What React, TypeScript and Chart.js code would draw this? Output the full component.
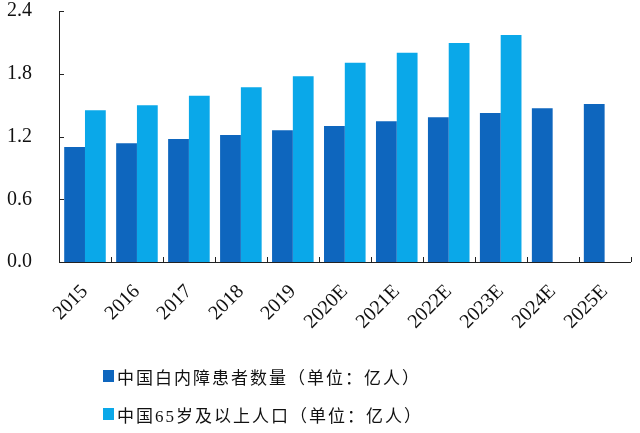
import React, { useEffect, useRef } from "react";
import { Chart, registerables } from "chart.js";

Chart.register(...registerables);

const categories = ["2015", "2016", "2017", "2018", "2019", "2020E", "2021E", "2022E", "2023E", "2024E", "2025E"];
const cataractPatients = [1.1, 1.135, 1.175, 1.215, 1.26, 1.3, 1.345, 1.385, 1.425, 1.47, 1.51];
const population65Plus = [1.45, 1.5, 1.59, 1.67, 1.775, 1.905, 2.0, 2.095, 2.17, null, null];
const seriesLabels = ["中国白内障患者数量（单位：亿人）", "中国65岁及以上人口（单位：亿人）"];
const yTicks = [0, 0.6, 1.2, 1.8, 2.4];

const DARK = "#0E66BE";
const LIGHT = "#0AA8E9";
const SERIF = "'Liberation Serif', 'Times New Roman', serif";

const innerTicks = {
  id: "innerTicks",
  afterDraw(chart: any) {
    const ctx = chart.ctx;
    const x = chart.scales.x;
    const y = chart.scales.y;
    ctx.save();
    ctx.strokeStyle = "#222";
    ctx.lineWidth = 1;
    const n = categories.length;
    const step = (x.right - x.left) / n;
    for (let i = 1; i <= n; i++) {
      const px = Math.round(x.left + i * step) + 0.5;
      ctx.beginPath();
      ctx.moveTo(px, y.bottom);
      ctx.lineTo(px, y.bottom - 5);
      ctx.stroke();
    }
    for (const v of yTicks) {
      const py = Math.round(y.getPixelForValue(v)) + 0.5;
      ctx.beginPath();
      ctx.moveTo(x.left, py);
      ctx.lineTo(x.left + 5, py);
      ctx.stroke();
    }
    ctx.restore();
  },
};

export default function App() {
  const ref = useRef<HTMLCanvasElement | null>(null);

  useEffect(() => {
    if (!ref.current) return;
    const chart = new Chart(ref.current, {
      type: "bar",
      data: {
        labels: categories,
        datasets: [
          { label: seriesLabels[0], data: cataractPatients, backgroundColor: DARK, categoryPercentage: 0.8, barPercentage: 1.0 },
          { label: seriesLabels[1], data: population65Plus as any, backgroundColor: LIGHT, categoryPercentage: 0.8, barPercentage: 1.0 },
        ],
      },
      options: {
        animation: false,
        responsive: true,
        maintainAspectRatio: false,
        layout: { padding: { top: 11, right: 9, bottom: 96, left: 0 } },
        plugins: { legend: { display: false }, tooltip: { enabled: false } },
        scales: {
          x: {
            grid: { display: false, drawTicks: false },
            border: { display: true, color: "#222", width: 1 },
            ticks: {
              autoSkip: false,
              minRotation: 45,
              maxRotation: 45,
              color: "#111",
              padding: 18,
              font: { family: SERIF, size: 20 },
            },
            afterFit: (s: any) => { s.height = 75; },
          },
          y: {
            min: 0,
            max: 2.4,
            afterBuildTicks: (s: any) => { s.ticks = yTicks.map((v) => ({ value: v })); },
            grid: { display: false, drawTicks: false },
            border: { display: true, color: "#222", width: 1 },
            ticks: {
              color: "#111",
              padding: 27,
              font: { family: SERIF, size: 20 },
              callback: (v: any) => Number(v).toFixed(1),
            },
            afterFit: (s: any) => {
              s.width = 59;
              s.paddingTop = 0;
              s.paddingBottom = 0;
            },
          },
        },
      },
      plugins: [innerTicks],
    });
    return () => chart.destroy();
  }, []);

  const legendRows = [
    { color: DARK, label: seriesLabels[0], top: 364 },
    { color: LIGHT, label: seriesLabels[1], top: 402 },
  ];

  return (
    <div style={{ position: "fixed", left: 0, top: 0, width: 640, height: 433, background: "#fff" }}>
      <canvas ref={ref} />
      {legendRows.map((r) => (
        <div
          key={r.label}
          style={{
            position: "absolute",
            left: 103,
            top: r.top,
            height: 24,
            display: "flex",
            alignItems: "center",
            fontFamily: "'Liberation Serif', 'Noto Sans CJK SC', serif",
            fontSize: 17,
            letterSpacing: "2px",
            color: "#111",
            whiteSpace: "nowrap",
          }}
        >
          <span style={{ display: "inline-block", width: 11, height: 12, background: r.color, marginRight: 3 }} />
          <span>{r.label}</span>
        </div>
      ))}
    </div>
  );
}
